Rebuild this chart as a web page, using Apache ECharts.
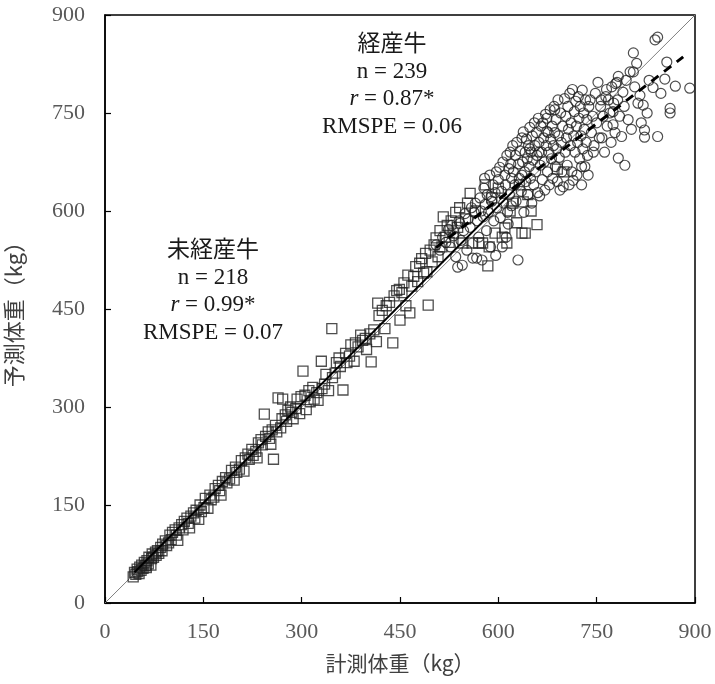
<!DOCTYPE html>
<html><head><meta charset="utf-8">
<script src="https://cdn.jsdelivr.net/npm/echarts@6/dist/echarts.min.js"></script>
<style>html,body{margin:0;padding:0;background:#fff}#c{width:715px;height:684px}</style>
</head><body><div id="c"></div>
<script>
const ticks = [0,150,300,450,600,750,900];
const heiferLabel = ['未経産牛','n = 218','0.99*','RMSPE = 0.07'];
const cowLabel = ['経産牛','n = 239','0.87*','RMSPE = 0.06'];
const identityLine = [[0,0],[900,900]];
const heiferFit = [[45,47],[640,648]];
const cowFit = [[505,544],[882,836]];
const heifers = [
[43,40],[45,47],[47,44],[49,52],[50,48],[52,45],[53,55],[55,50],[56,58],[58,53],[60,62],[62,57],[63,54],[64,65],[66,60],[67,70],[70,58],[71,68],[72,75],[74,70],[77,78],[78,73],[80,80],[82,76],[85,85],[87,80],[88,90],[92,95],[94,88],[97,92],[99,104],
[101,97],[103,108],[107,112],[109,104],[111,96],[113,115],[117,120],[119,112],[121,125],[125,130],[127,122],[129,115],[131,133],[135,138],[137,130],[139,142],[143,128],[145,150],[147,140],[151,146],[153,160],[157,145],[160,165],[162,158],[166,162],[168,175],[173,180],[175,172],[177,165],[179,186],[184,192],[186,184],[190,190],[193,203],[197,188],[199,208],
[201,200],[205,205],[208,218],[212,202],[214,222],[218,228],[220,220],[224,235],[226,226],[230,232],[232,222],[234,245],[238,250],[240,242],[243,289],[245,255],[249,262],[251,252],[253,243],[255,265],[257,220],[260,272],[262,262],[264,314],[268,268],[270,282],[271,312],[275,288],[277,278],[279,295],[283,300],[285,292],[287,282],[291,298],[293,312],[297,290],[299,316],
[302,355],[305,318],[307,296],[311,325],[313,308],[317,330],[319,312],[323,322],[325,310],[330,370],[331,328],[335,335],[337,350],[341,325],[346,420],[347,345],[351,352],[353,368],[357,375],[359,362],[363,326],[367,382],[369,368],[373,378],[375,395],[380,370],[382,398],[386,392],[390,410],[393,402],[397,405],[399,388],[404,412],[406,369],[410,418],[414,400],[416,459],[418,440],[423,448],[427,420],[429,455],[434,460],[439,398],[441,470],[445,478],[449,480],
[450,433],[453,475],[456,490],[459,455],[462,502],[465,444],[468,485],[471,500],[474,515],[477,492],[480,520],[483,527],[486,505],[489,535],[491,507],[493,456],[496,540],[499,522],[502,548],[505,559],[508,530],[511,570],[514,545],[516,591],[519,560],[522,578],[525,552],[528,585],[531,566],[535,598],[538,575],[541,605],[546,551],[550,588],[553,612],[557,627],[560,551],[565,600],[570,551],[576,551],[580,640],[584,516],[586,545],[590,620],[595,566],[600,635],[606,560],[610,574],[613,551],[618,600],[622,612],[628,582],[632,640],[636,566],[638,614],[641,566],[645,625],[650,600],[659,579],[690,664],[700,660]
];
const cows = [
[505,548],[511,540],[515,560],[520,552],[524,572],[527,545],[529,578],[532,562],[535,530],[538,514],[540,585],[541,581],[543,555],[545,517],[547,570],[549,596],[552,540],[554,588],[557,575],[559,605],
[561,528],[563,598],[565,612],[567,528],[568,585],[570,560],[572,620],[574,600],[575,525],[577,591],[578,635],[580,610],[582,570],[583,625],[585,598],[587,655],[588,545],[590,615],[592,640],[593,585],[595,628],[597,660],[598,605],[600,648],[602,667],[603,590],[605,630],[607,675],[608,612],[610,655],[611,640],[613,685],[614,598],[616,665],[617,625],[618,690],[620,650],[620,608],[619,672],[612,560],[606,545],[596,532],[615,580],[589,622],[579,650],
[622,700],[623,660],[625,640],[626,685],[627,615],[628,705],[630,525],[631,672],[632,650],[633,692],[635,630],[636,712],[637,675],[638,721],[639,598],[640,660],[641,690],[642,645],[643,710],[644,680],[645,625],[646,700],[647,668],[648,728],[649,650],[650,690],[651,612],[652,715],[653,678],[654,640],[655,735],[656,700],[657,660],[658,720],[659,685],[660,628],[661,742],[662,705],[663,623],[664,670],[665,730],[666,690],[667,648],[668,735],[669,712],[670,675],[671,632],[672,748],[673,700],[674,742],[675,660],[676,720],[677,690],[678,640],[679,755],[680,710],[681,680],[682,730],[683,650],[684,700],[685,760],[686,720],[687,668],[688,740],[689,695],[690,645],[691,770],[692,715],[693,682],[694,632],[695,750],[696,705],[697,660],[698,730],[699,637],[686,755],[674,722],[662,690],[648,695],[636,655],
[701,772],[702,690],[703,745],[704,712],[705,670],[706,760],[707,725],[708,640],[709,780],[710,700],[711,735],[712,660],[713,786],[714,647],[715,715],[716,752],[717,690],[718,768],[719,730],[720,655],[721,705],[722,775],[723,742],[724,680],[725,760],[726,715],[727,640],[728,785],[729,695],[730,750],[731,725],[732,668],[733,770],[734,705],[735,740],[736,685],[738,760],[740,770],[742,720],[744,745],[746,700],[748,780],[750,735],[752,797],[754,712],[756,760],[757,770],[758,712],[760,745],[762,690],[764,775],[765,786],[766,730],[768,770],[770,750],[772,705],[773,790],[775,752],[775,732],[776,765],[778,720],[779,795],[745,690],[737,655],[727,668],
[781,797],[782,770],[783,806],[783,681],[785,745],[788,714],[790,782],[792,760],[793,670],[795,800],[798,740],[801,813],[803,725],[806,813],[806,842],[808,790],[811,826],[813,765],[816,777],[818,735],[821,762],[823,724],[823,713],[827,750],[830,800],[836,789],[839,862],[843,866],[843,714],[848,780],[854,802],[857,828],[862,757],[862,750],[870,791],[892,788]
];

const chart = echarts.init(document.getElementById('c'));
const serif = '"Liberation Serif","DejaVu Serif",serif';
const cjk = '"Noto Sans CJK JP","Liberation Serif",sans-serif';
const axisCommon = {
  type:'value', min:0, max:900, interval:150,
  axisLine:{show:true, onZero:false, lineStyle:{color:'#000', width:1.5}},
  axisTick:{show:true, inside:true, length:6, lineStyle:{color:'#000', width:1.2}},
  splitLine:{show:false},
  axisLabel:{fontFamily:serif, fontSize:22, color:'#595959'},
  nameLocation:'middle',
  nameTextStyle:{fontFamily:cjk, fontSize:21, color:'#404040'}
};
function block(lines, cx, y0){
  const out = [];
  const gaps = [0,30,57,85];
  lines.forEach((t,i)=>{
    if(i===2){
      out.push({type:'text', x:cx, y:y0+gaps[i], style:{text:'{i|r} = '+t, rich:{i:{fontStyle:'italic', fontFamily:serif, fontSize:23, fill:'#1a1a1a'}}, font:'23px '+serif, fill:'#1a1a1a', align:'center', verticalAlign:'middle'}});
    } else {
      out.push({type:'text', x:cx, y:y0+gaps[i], style:{text:t, font: i===0 ? '23px '+cjk : '23px '+serif, fill:'#1a1a1a', align:'center', verticalAlign:'middle'}});
    }
  });
  return out;
}
chart.setOption({
  animation:false,
  grid:{left:105, right:20, top:15, bottom:81, show:true, borderColor:'#000', borderWidth:1.5, containLabel:false, outerBoundsMode:'none'},
  xAxis:Object.assign({}, axisCommon, {name:'計測体重（kg）', nameGap:50, axisLabel:Object.assign({}, axisCommon.axisLabel, {margin:18})}),
  yAxis:Object.assign({}, axisCommon, {name:'予測体重（kg）', nameGap:80, nameTextStyle:Object.assign({}, axisCommon.nameTextStyle, {fontSize:22}), axisLabel:Object.assign({}, axisCommon.axisLabel, {margin:20})}),
  graphic: block(heiferLabel, 213, 248).concat(block(cowLabel, 392, 42)),
  series:[
    {type:'line', data:identityLine, symbol:'none', lineStyle:{color:'#808080', width:1}, z:1},
    {type:'scatter', data:heifers, symbol:'rect', symbolSize:10, itemStyle:{color:'rgba(0,0,0,0)', borderColor:'#222', borderWidth:1.3}, z:2},
    {type:'scatter', data:cows, symbol:'circle', symbolSize:10, itemStyle:{color:'rgba(0,0,0,0)', borderColor:'#222', borderWidth:1.2}, z:3},
    {type:'line', data:heiferFit, symbol:'none', lineStyle:{color:'#000', width:2}, z:4},
    {type:'line', data:cowFit, symbol:'none', lineStyle:{color:'#000', width:3, type:[9,7]}, z:4}
  ]
});
</script></body></html>
